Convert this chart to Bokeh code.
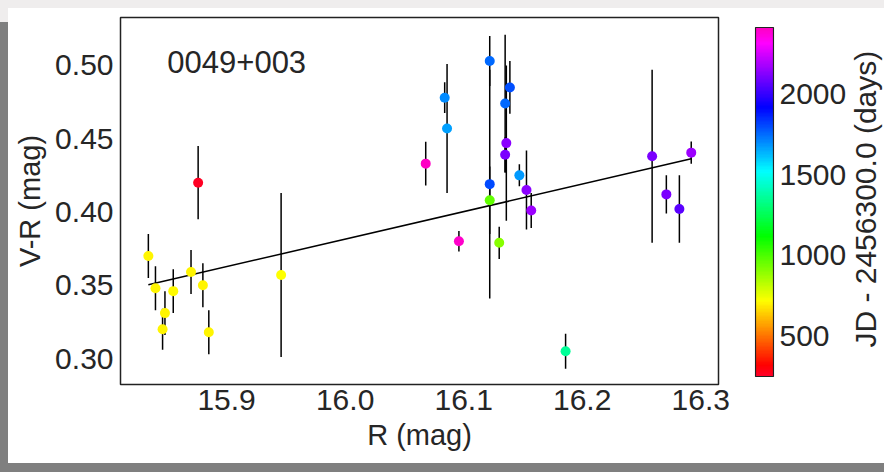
import numpy as np
from bokeh.plotting import figure
from bokeh.models import (ColumnDataSource, LinearColorMapper, FixedTicker, Label, Spacer)
from bokeh.layouts import row, column
from bokeh.transform import transform
from bokeh.core.properties import value
from bokeh.embed import file_html
from bokeh.resources import INLINE

# ---- data ----
r_mag = [15.834, 15.840, 15.848, 15.846, 15.855, 15.870, 15.880, 15.885, 15.946,
         15.876, 16.068, 16.084, 16.086, 16.096, 16.122, 16.122, 16.122, 16.130,
         16.135, 16.139, 16.136, 16.135, 16.147, 16.153, 16.157, 16.186,
         16.259, 16.271, 16.282, 16.292]
vr_mag = [0.370, 0.348, 0.331, 0.320, 0.346, 0.359, 0.350, 0.318, 0.357,
          0.420, 0.433, 0.478, 0.457, 0.380, 0.503, 0.419, 0.408, 0.379,
          0.474, 0.485, 0.447, 0.439, 0.425, 0.415, 0.401, 0.305,
          0.438, 0.412, 0.402, 0.4405]
vr_err = [0.015, 0.015, 0.015, 0.014, 0.015, 0.015, 0.015, 0.015, 0.056,
          0.025, 0.015, 0.0105, 0.044, 0.007, 0.017, 0.078, 0.023, 0.011,
          0.047, 0.018, 0.053, 0.012, 0.0075, 0.027, 0.012, 0.012,
          0.059, 0.013, 0.023, 0.0076]
jd_days = [700, 705, 700, 700, 710, 700, 705, 700, 720,
           260, 2395, 1700, 1660, 2390, 1750, 1800, 960, 900,
           1750, 1790, 2130, 2100, 1670, 2130, 2150, 1350,
           2100, 2100, 2050, 2150]

fit_r = [15.834, 16.292]
fit_vr = [0.3503, 0.4363]

x_ticks = [15.9, 16.0, 16.1, 16.2, 16.3]
x_tick_labels = ["15.9", "16.0", "16.1", "16.2", "16.3"]
y_ticks = [0.30, 0.35, 0.40, 0.45, 0.50]
y_tick_labels = ["0.30", "0.35", "0.40", "0.45", "0.50"]
cb_ticks = [500, 1000, 1500, 2000]
cb_tick_labels = ["500", "1000", "1500", "2000"]
jd_low, jd_high = 250, 2410

x_range = (15.8105, 16.315)
y_range = (0.2823, 0.5327)
cb_range = (200.5, 2472.0)

# gist_rainbow colormap
_gr = [(0.000, (1.00, 0.00, 0.16)), (0.030, (1.00, 0.00, 0.00)),
       (0.215, (1.00, 1.00, 0.00)), (0.400, (0.00, 1.00, 0.00)),
       (0.586, (0.00, 1.00, 1.00)), (0.770, (0.00, 0.00, 1.00)),
       (0.954, (1.00, 0.00, 1.00)), (1.000, (1.00, 0.00, 0.75))]
pos = [a for a, _ in _gr]
palette = []
for t in np.linspace(0, 1, 256):
    rgb = [np.interp(t, pos, [c[i] for _, c in _gr]) for i in range(3)]
    palette.append("#%02x%02x%02x" % tuple(int(round(v * 255)) for v in rgb))

mapper = LinearColorMapper(palette=palette, low=jd_low, high=jd_high)

FONT = "Liberation Sans"
TXT = "#262626"

src = ColumnDataSource(dict(
    r=r_mag, vr=vr_mag, jd=jd_days,
    lo=[v - e for v, e in zip(vr_mag, vr_err)],
    hi=[v + e for v, e in zip(vr_mag, vr_err)],
))

p = figure(width=740, height=455, x_range=x_range, y_range=y_range,
           toolbar_location=None, output_backend="svg",
           min_border_left=112, min_border_right=30,
           min_border_top=9, min_border_bottom=79)
p.background_fill_color = "white"
p.border_fill_color = "white"
p.outline_line_color = "#222222"
p.outline_line_width = 1.5
p.grid.visible = False

p.segment(x0="r", y0="lo", x1="r", y1="hi", source=src, line_color="black", line_width=1.5)
p.line(fit_r, fit_vr, line_color="black", line_width=1.5)
p.scatter("r", "vr", source=src, size=10, fill_color=transform("jd", mapper), line_color=None)

for ax in (p.xaxis[0], p.yaxis[0]):
    ax.axis_line_color = None
    ax.major_tick_line_color = None
    ax.minor_tick_line_color = None
    ax.major_tick_in = 0
    ax.major_tick_out = 0
    ax.minor_tick_in = 0
    ax.minor_tick_out = 0
    ax.major_label_text_font = FONT
    ax.major_label_text_font_size = "30px"
    ax.major_label_text_color = TXT
    ax.axis_label_text_font = FONT
    ax.axis_label_text_font_size = "29px"
    ax.axis_label_text_font_style = "normal"
    ax.axis_label_text_color = TXT

p.xaxis.ticker = FixedTicker(ticks=x_ticks)
p.xaxis.major_label_overrides = dict(zip(x_ticks, x_tick_labels))
p.yaxis.ticker = FixedTicker(ticks=y_ticks)
p.yaxis.major_label_overrides = dict(zip(y_ticks, y_tick_labels))
p.xaxis.axis_label = "R (mag)"
p.yaxis.axis_label = "V-R (mag)"
p.xaxis.major_label_standoff = 5
p.xaxis.axis_label_standoff = 6
p.yaxis.major_label_standoff = 7
p.yaxis.axis_label_standoff = 6

p.add_layout(Label(x=15.85, y=0.502, text="0049+003", text_font=FONT,
                   text_font_size="31px", text_color=TXT, text_baseline="alphabetic"))

# colour bar as its own small figure (frame aligned with the main frame)
pc = figure(width=102, height=455, x_range=(-1 / 18, 19 / 18), y_range=cb_range,
            toolbar_location=None, output_backend="svg", y_axis_location="right",
            min_border_left=6, min_border_right=76, min_border_top=9, min_border_bottom=79)
pc.background_fill_color = "white"
pc.border_fill_color = "white"
pc.outline_line_color = None
pc.grid.visible = False
pc.xaxis.visible = False
grad = np.linspace(jd_low, jd_high, 256).reshape(256, 1)
pc.image(image=[grad], x=0, y=jd_low, dw=1, dh=jd_high - jd_low, color_mapper=mapper)
pc.quad(left=[0], right=[1], bottom=[jd_low], top=[jd_high], fill_color=None,
        line_color="#222222", line_width=1.2)
ya = pc.yaxis[0]
ya.ticker = FixedTicker(ticks=cb_ticks)
ya.major_label_overrides = dict(zip(cb_ticks, cb_tick_labels))
ya.axis_line_color = None
ya.major_tick_line_color = None
ya.minor_tick_line_color = None
ya.major_tick_in = 0
ya.major_tick_out = 0
ya.major_label_text_font = FONT
ya.major_label_text_font_size = "30px"
ya.major_label_text_color = TXT
ya.major_label_standoff = 5

# colour bar title, drawn in its own narrow panel so it reads bottom-to-top
pt = figure(width=34, height=455, x_range=(0, 1), y_range=(0, 1),
            toolbar_location=None, output_backend="svg",
            min_border_left=0, min_border_right=0, min_border_top=9, min_border_bottom=79)
pt.axis.visible = False
pt.grid.visible = False
pt.outline_line_color = None
pt.background_fill_color = "white"
pt.border_fill_color = "white"
pt.text(x=[0.45], y=[0.505], text=["JD - 2456300.0 (days)"], angle=np.pi / 2,
        text_align="center", text_baseline="middle", text_font=value(FONT),
        text_font_size="30px", text_color=TXT)

GRAY = "#7f7f7f"
LIGHT = "#efeded"
top = Spacer(width=884, height=8, styles={"background-color": LIGHT})
left = column(Spacer(width=8, height=14, styles={"background-color": LIGHT}),
              Spacer(width=8, height=441, styles={"background-color": GRAY}), spacing=0)
mid = row(left, p, pc, pt, spacing=0)
bottom = Spacer(width=884, height=9, styles={"background-color": GRAY})
layout = column(top, mid, bottom, spacing=0)

open("out.html", "w").write(file_html(layout, INLINE))
